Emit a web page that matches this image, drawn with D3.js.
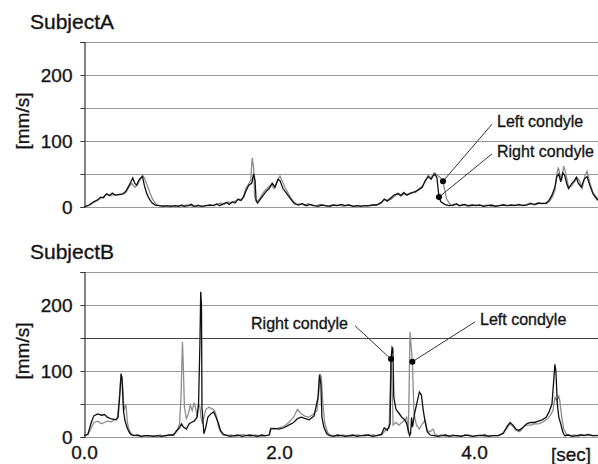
<!DOCTYPE html>
<html>
<head>
<meta charset="utf-8">
<script src="https://cdn.jsdelivr.net/npm/d3@7"></script>
<style>
  body { margin: 0; background: #fff; }
  svg { display: block; font-family: "Liberation Sans", Arial, sans-serif; }
  text { stroke: #222; stroke-width: 0.35px; }
</style>
</head>
<body>
<svg id="chart" width="598" height="464"></svg>
<script>
// condyle speed [mm/s] against time [sec] as [t, v]
var subjectA_left = [
  [0,0],[0.05,2],[0.1,7],[0.14,10],[0.17,13],[0.2,16],[0.24,20],[0.27,17],[0.31,19],[0.35,18],[0.39,19],
  [0.43,22],[0.46,30],[0.49,36],[0.52,30],[0.55,34],[0.57,40],[0.6,48],[0.62,44],[0.64,36],[0.66,28],
  [0.68,20],[0.7,13],[0.72,8],[0.74,4],[0.77,2],[0.81,2],[0.85,1],[0.89,2],[0.93,1],[0.97,2],[1.01,1],
  [1.05,3],[1.09,2],[1.13,1],[1.17,3],[1.21,1],[1.25,2],[1.29,2],[1.33,3],[1.37,4],[1.4,6],[1.44,4],
  [1.48,8],[1.51,6],[1.55,9],[1.58,11],[1.61,10],[1.63,14],[1.66,28],[1.69,35],[1.71,40],[1.725,74],
  [1.74,60],[1.75,15],[1.77,8],[1.8,12],[1.83,20],[1.86,26],[1.89,30],[1.92,34],[1.95,28],[1.98,38],
  [2.01,47],[2.03,40],[2.06,30],[2.09,22],[2.12,14],[2.15,8],[2.18,4],[2.22,5],[2.26,3],[2.3,5],
  [2.34,2],[2.38,2],[2.42,4],[2.46,2],[2.5,1],[2.54,3],[2.58,2],[2.62,3],[2.66,1],[2.7,3],[2.74,2],
  [2.78,1],[2.82,2],[2.86,2],[2.9,1],[2.94,2],[2.98,3],[3.02,4],[3.05,6],[3.08,11],[3.12,10],[3.15,12],
  [3.19,17],[3.22,21],[3.26,18],[3.29,20],[3.33,19],[3.36,22],[3.4,22],[3.44,28],[3.47,32],[3.5,38],
  [3.53,48],[3.56,44],[3.59,52],[3.61,50],[3.64,46],[3.66,44],[3.682,39],[3.7,25],[3.72,12],[3.75,5],
  [3.78,2],[3.82,4],[3.86,2],[3.9,3],[3.94,1],[3.98,2],[4.02,3],[4.06,2],[4.1,2],[4.14,3],[4.18,1],
  [4.22,2],[4.26,2],[4.3,4],[4.34,2],[4.38,2],[4.42,3],[4.46,2],[4.5,3],[4.54,4],[4.58,6],[4.62,3],
  [4.66,5],[4.7,6],[4.74,5],[4.77,8],[4.8,14],[4.83,25],[4.85,50],[4.865,60],[4.88,50],[4.9,40],
  [4.92,62],[4.94,52],[4.97,30],[5.0,32],[5.03,38],[5.06,44],[5.08,40],[5.11,28],[5.14,48],[5.16,54],
  [5.19,36],[5.22,22],[5.25,16],[5.27,12]
];
var subjectA_right = [
  [0,0],[0.05,3],[0.1,8],[0.14,11],[0.17,15],[0.2,14],[0.23,20],[0.26,17],[0.29,21],[0.32,18],[0.36,19],
  [0.4,20],[0.43,24],[0.46,32],[0.48,38],[0.5,44],[0.52,36],[0.54,33],[0.56,40],[0.58,44],[0.6,46],
  [0.62,32],[0.64,22],[0.66,15],[0.68,10],[0.7,6],[0.73,3],[0.77,2],[0.81,1],[0.85,2],[0.89,1],[0.93,2],
  [0.97,1],[1.0,3],[1.03,1],[1.07,2],[1.1,4],[1.13,1],[1.17,2],[1.21,1],[1.25,2],[1.29,3],[1.33,2],
  [1.36,5],[1.39,2],[1.42,4],[1.46,7],[1.49,4],[1.52,8],[1.55,6],[1.58,12],[1.61,10],[1.64,16],
  [1.66,24],[1.69,33],[1.72,36],[1.74,50],[1.755,40],[1.765,10],[1.78,6],[1.81,12],[1.84,18],[1.87,24],
  [1.9,28],[1.93,36],[1.96,30],[1.99,42],[2.01,40],[2.04,28],[2.07,22],[2.1,16],[2.13,10],[2.16,5],
  [2.2,3],[2.24,5],[2.28,2],[2.32,4],[2.36,2],[2.4,1],[2.44,3],[2.48,2],[2.52,1],[2.56,3],[2.6,2],
  [2.64,4],[2.68,2],[2.72,3],[2.76,1],[2.8,2],[2.84,1],[2.88,2],[2.92,2],[2.96,3],[3.0,3],[3.05,7],
  [3.08,12],[3.11,9],[3.14,13],[3.18,18],[3.22,20],[3.25,17],[3.28,22],[3.31,18],[3.35,21],[3.39,23],
  [3.43,26],[3.47,30],[3.5,40],[3.53,46],[3.56,42],[3.58,47],[3.6,50],[3.62,44],[3.641,15],[3.66,8],
  [3.7,4],[3.74,2],[3.78,3],[3.82,5],[3.85,2],[3.9,4],[3.94,2],[3.98,3],[4.02,2],[4.06,3],[4.1,1],
  [4.14,2],[4.18,3],[4.22,1],[4.26,2],[4.3,3],[4.34,2],[4.38,3],[4.42,2],[4.46,4],[4.5,2],[4.54,3],
  [4.58,5],[4.62,4],[4.66,6],[4.7,5],[4.74,6],[4.77,10],[4.8,18],[4.83,30],[4.85,46],[4.87,50],
  [4.89,38],[4.91,52],[4.93,48],[4.95,36],[4.97,28],[5.0,35],[5.03,40],[5.05,45],[5.07,36],[5.1,30],
  [5.13,42],[5.16,46],[5.19,32],[5.22,20],[5.25,14],[5.27,10]
];
var subjectB_left = [
  [0,2],[0.04,4],[0.07,12],[0.1,22],[0.14,24],[0.18,20],[0.21,22],[0.24,24],[0.28,23],[0.31,26],
  [0.34,28],[0.36,55],[0.375,85],[0.39,92],[0.4,70],[0.41,40],[0.43,50],[0.445,22],[0.46,12],[0.48,6],
  [0.5,3],[0.54,2],[0.58,1],[0.62,2],[0.66,1],[0.7,2],[0.74,1],[0.78,3],[0.82,1],[0.86,2],[0.9,3],
  [0.93,5],[0.96,10],[0.98,20],[0.995,60],[1.01,144],[1.02,100],[1.03,45],[1.05,28],[1.07,35],
  [1.09,48],[1.11,40],[1.13,52],[1.15,40],[1.16,30],[1.175,50],[1.19,45],[1.2,30],[1.215,20],
  [1.23,30],[1.25,42],[1.28,45],[1.31,43],[1.34,40],[1.36,30],[1.38,15],[1.4,8],[1.43,3],[1.47,2],
  [1.51,3],[1.55,1],[1.59,2],[1.63,4],[1.67,2],[1.71,1],[1.75,3],[1.79,2],[1.83,1],[1.87,2],[1.9,3],
  [1.915,14],[1.95,12],[2.0,14],[2.05,16],[2.1,22],[2.15,30],[2.19,42],[2.22,36],[2.26,32],[2.3,30],
  [2.35,34],[2.39,40],[2.41,70],[2.42,96],[2.435,90],[2.45,50],[2.47,20],[2.5,6],[2.53,3],[2.57,2],
  [2.61,1],[2.65,3],[2.69,2],[2.73,1],[2.77,2],[2.81,3],[2.85,2],[2.89,4],[2.93,2],[2.97,3],[3.0,2],
  [3.05,3],[3.08,8],[3.1,12],[3.13,14],[3.149,118],[3.16,80],[3.17,18],[3.2,22],[3.23,18],[3.26,22],
  [3.29,26],[3.31,30],[3.327,5],[3.344,159],[3.368,114],[3.385,35],[3.41,18],[3.44,12],[3.47,20],
  [3.5,25],[3.52,10],[3.55,8],[3.58,12],[3.6,4],[3.63,2],[3.67,3],[3.71,1],[3.75,2],[3.79,3],[3.83,1],
  [3.87,2],[3.91,2],[3.95,3],[3.99,1],[4.03,2],[4.07,3],[4.11,1],[4.15,2],[4.19,2],[4.25,2],[4.3,5],
  [4.34,14],[4.37,20],[4.4,16],[4.43,10],[4.47,8],[4.51,16],[4.54,18],[4.58,18],[4.62,20],[4.66,20],
  [4.7,22],[4.74,26],[4.78,32],[4.81,40],[4.83,60],[4.85,55],[4.87,62],[4.88,55],[4.9,30],[4.92,12],
  [4.95,4],[4.99,2],[5.03,3],[5.07,1],[5.11,4],[5.15,2],[5.19,3],[5.23,2],[5.27,3]
];
var subjectB_right = [
  [0,2],[0.04,4],[0.07,20],[0.1,32],[0.14,35],[0.18,33],[0.21,34],[0.24,30],[0.27,28],[0.3,27],
  [0.33,26],[0.35,30],[0.37,70],[0.38,96],[0.39,88],[0.405,40],[0.42,25],[0.44,15],[0.46,8],[0.48,4],
  [0.51,2],[0.55,3],[0.59,1],[0.63,2],[0.67,2],[0.71,1],[0.75,2],[0.79,1],[0.83,2],[0.87,3],[0.92,3],
  [0.95,10],[0.98,14],[1.0,20],[1.02,15],[1.05,12],[1.08,20],[1.1,22],[1.13,24],[1.16,30],[1.175,50],
  [1.19,150],[1.197,220],[1.205,200],[1.21,45],[1.23,5],[1.25,15],[1.27,30],[1.3,35],[1.33,38],
  [1.36,28],[1.38,20],[1.4,10],[1.43,4],[1.46,3],[1.5,1],[1.54,2],[1.58,3],[1.62,1],[1.66,2],[1.7,3],
  [1.74,2],[1.78,1],[1.82,3],[1.86,2],[1.9,3],[1.915,12],[1.95,13],[2.0,12],[2.05,14],[2.1,18],
  [2.15,22],[2.19,28],[2.23,30],[2.27,28],[2.31,26],[2.36,32],[2.4,60],[2.415,94],[2.43,80],[2.44,30],
  [2.46,15],[2.49,5],[2.52,2],[2.56,1],[2.6,3],[2.64,2],[2.68,1],[2.72,2],[2.76,3],[2.8,1],[2.84,2],
  [2.88,2],[2.92,3],[2.96,1],[3.0,2],[3.05,4],[3.08,14],[3.11,10],[3.14,20],[3.149,118],[3.16,136],
  [3.168,134],[3.178,60],[3.2,42],[3.23,36],[3.26,30],[3.29,26],[3.31,20],[3.33,8],[3.34,2],[3.35,5],
  [3.36,30],[3.37,15],[3.39,35],[3.42,55],[3.44,68],[3.46,64],[3.48,40],[3.5,22],[3.52,8],[3.55,3],
  [3.59,2],[3.63,1],[3.67,2],[3.71,3],[3.75,1],[3.79,2],[3.83,2],[3.87,1],[3.91,3],[3.95,2],[3.99,1],
  [4.03,2],[4.07,2],[4.11,3],[4.15,1],[4.19,2],[4.25,2],[4.3,6],[4.34,16],[4.37,22],[4.4,18],[4.43,12],
  [4.46,10],[4.5,14],[4.54,20],[4.58,22],[4.62,22],[4.66,24],[4.7,26],[4.74,30],[4.77,38],[4.8,50],
  [4.82,90],[4.83,110],[4.84,100],[4.855,50],[4.87,30],[4.89,20],[4.91,8],[4.93,2],[4.97,3],[5.01,1],
  [5.05,2],[5.09,3],[5.13,2],[5.17,4],[5.21,2],[5.27,2]
];

var gridValues = [0, 50, 100, 150, 200, 250];
var yTickValues = [0, 100, 200];
var xTickValues = [0, 2, 4];

// callouts: dot on the trace [t, v], text position [t, v]
var calloutsA = [
  { text: 'Left condyle',  dot: [3.682, 39], label: [4.236, 130], anchor: 'start' },
  { text: 'Right condyle', dot: [3.641, 15], label: [4.236, 85],  anchor: 'start' }
];
var calloutsB = [
  { text: 'Right condyle', dot: [3.149, 118], label: [2.708, 173], anchor: 'end' },
  { text: 'Left condyle',  dot: [3.368, 114], label: [4.062, 179], anchor: 'start' }
];

var svg = d3.select('#chart');
var x = d3.scaleLinear().domain([0, 5.272]).range([84, 598]);

function drawPanel(cfg) {
  var y = d3.scaleLinear().domain([0, 250]).range([cfg.bottom, cfg.bottom - 165]);
  var g = svg.append('g');

  g.append('text')
    .attr('x', 30).attr('y', cfg.bottom - 178)
    .attr('font-size', 21).attr('fill', '#111')
    .text(cfg.title);

  // horizontal grid
  g.selectAll('line.grid').data(gridValues).enter()
    .append('line')
    .attr('x1', 84).attr('x2', 598)
    .attr('y1', function(d) { return y(d) + 0.5; })
    .attr('y2', function(d) { return y(d) + 0.5; })
    .attr('stroke', function(d) { return d === cfg.darkGrid ? '#444' : '#999'; })
    .attr('stroke-width', 1.2);

  // y axis: small ticks at every grid value, numbers on 0/100/200 only
  var yAxis = d3.axisLeft(y).tickValues(gridValues).tickSize(4).tickPadding(8)
    .tickFormat(function(d) { return yTickValues.indexOf(d) >= 0 ? d : ''; });
  var ya = g.append('g').attr('transform', 'translate(84.5,0)').call(yAxis);
  ya.select('.domain').attr('stroke', '#333').attr('stroke-width', 1.2);
  ya.selectAll('.tick line').attr('stroke', '#333');
  ya.selectAll('.tick text').attr('font-size', 19).attr('fill', '#111')
    .attr('font-family', '"Liberation Sans", Arial, sans-serif').attr('dy', '0.36em');

  g.append('text')
    .attr('transform', 'translate(29,' + (cfg.bottom - 86) + ') rotate(-90)')
    .attr('text-anchor', 'middle').attr('font-size', 19).attr('fill', '#111')
    .text('[mm/s]');

  var line = d3.line()
    .x(function(d) { return x(d[0]); })
    .y(function(d) { return y(d[1]); });

  g.append('path').datum(cfg.left)
    .attr('d', line).attr('fill', 'none')
    .attr('stroke', '#8c8c8c').attr('stroke-width', 1.3);
  g.append('path').datum(cfg.right)
    .attr('d', line).attr('fill', 'none')
    .attr('stroke', '#111').attr('stroke-width', 1.3);

  // callouts
  cfg.callouts.forEach(function(c) {
    var lx = x(c.label[0]), ly = y(c.label[1]);
    var ex = c.anchor === 'end' ? lx + 7 : lx - 5;
    g.append('line')
      .attr('x1', x(c.dot[0])).attr('y1', y(c.dot[1]))
      .attr('x2', ex).attr('y2', ly + 3)
      .attr('stroke', '#333').attr('stroke-width', 1);
    g.append('circle')
      .attr('cx', x(c.dot[0])).attr('cy', y(c.dot[1])).attr('r', 3)
      .attr('fill', '#000');
    g.append('text')
      .attr('x', lx).attr('y', ly + 6)
      .attr('text-anchor', c.anchor)
      .attr('font-size', 16).attr('fill', '#111')
      .text(c.text);
  });

  if (cfg.xAxis) {
    var xAxis = d3.axisBottom(x).tickValues(xTickValues).tickSize(0).tickPadding(9)
      .tickFormat(d3.format('.1f'));
    var xa = g.append('g').attr('transform', 'translate(0,' + cfg.bottom + ')').call(xAxis);
    xa.select('.domain').remove();
    xa.selectAll('.tick text').attr('font-size', 19).attr('fill', '#111')
      .attr('font-family', '"Liberation Sans", Arial, sans-serif');
    g.append('text')
      .attr('x', 551).attr('y', cfg.bottom + 24)
      .attr('font-size', 19).attr('fill', '#111')
      .text('[sec]');
  }
}

drawPanel({ title: 'SubjectA', bottom: 207, left: subjectA_left, right: subjectA_right,
  callouts: calloutsA, darkGrid: null, xAxis: false });
drawPanel({ title: 'SubjectB', bottom: 437, left: subjectB_left, right: subjectB_right,
  callouts: calloutsB, darkGrid: 150, xAxis: true });
</script>
</body>
</html>
